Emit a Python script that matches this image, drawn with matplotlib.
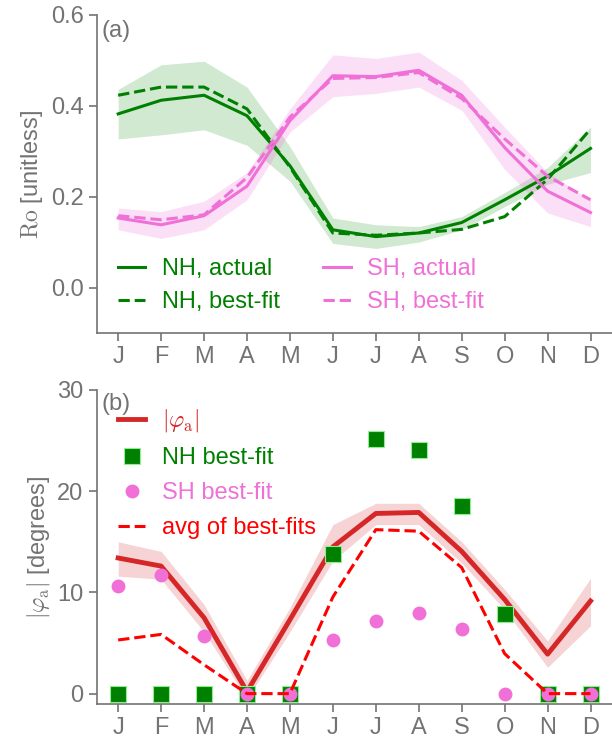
import numpy as np
import matplotlib
matplotlib.use("Agg")
import matplotlib.pyplot as plt

plt.rcParams['font.family'] = ['Liberation Sans', 'DejaVu Sans']
plt.rcParams['mathtext.fontset'] = 'cm'
plt.rcParams['font.size'] = 17

GREY = '0.45'
GREEN = 'green'
PINK = '#F070D8'
RED = 'tab:red'

months = ['J', 'F', 'M', 'A', 'M', 'J', 'J', 'A', 'S', 'O', 'N', 'D']

# Rossby number, panel (a)
nh_actual = [0.382, 0.412, 0.423, 0.378, 0.268, 0.127, 0.112, 0.120, 0.143, 0.193, 0.245, 0.306]
nh_bestfit = [0.423, 0.441, 0.441, 0.393, 0.265, 0.120, 0.115, 0.120, 0.128, 0.156, 0.238, 0.349]
nh_upper = [0.436, 0.490, 0.498, 0.441, 0.310, 0.153, 0.138, 0.134, 0.156, 0.209, 0.264, 0.353]
nh_lower = [0.327, 0.336, 0.347, 0.313, 0.234, 0.097, 0.086, 0.100, 0.127, 0.178, 0.227, 0.253]

sh_actual = [0.153, 0.138, 0.158, 0.223, 0.367, 0.466, 0.464, 0.478, 0.423, 0.308, 0.212, 0.165]
sh_bestfit = [0.158, 0.149, 0.160, 0.242, 0.375, 0.460, 0.462, 0.473, 0.416, 0.327, 0.245, 0.193]
sh_upper = [0.175, 0.167, 0.190, 0.253, 0.393, 0.512, 0.504, 0.518, 0.456, 0.353, 0.253, 0.193]
sh_lower = [0.127, 0.108, 0.127, 0.193, 0.342, 0.420, 0.427, 0.441, 0.390, 0.260, 0.164, 0.134]

# tilt angle, panel (b)
phi_a = [13.4, 12.6, 7.5, 0.2, 7.3, 14.5, 17.8, 17.9, 14.05, 9.3, 3.9, 9.15]
phi_upper = [15.0, 14.05, 8.8, 1.3, 8.5, 16.7, 18.8, 18.8, 15.0, 10.3, 5.2, 11.4]
phi_lower = [11.6, 11.3, 6.1, -0.5, 6.1, 13.1, 16.7, 16.7, 12.9, 8.3, 2.6, 6.7]
nh_phi = [0, 0, 0, 0, 0, 13.8, 25.2, 24.1, 18.5, 7.9, 0, 0]
sh_phi = [10.6, 11.7, 5.7, 0, 0, 5.3, 7.2, 8.0, 6.4, 0, 0, 0]
avg_phi = (np.array(nh_phi) + np.array(sh_phi)) / 2

x = np.arange(len(months))

fig = plt.figure(figsize=(6.12, 7.4), dpi=100)
ax1 = fig.add_axes([0.158, 0.55, 0.842, 0.43])
ax2 = fig.add_axes([0.158, 0.049, 0.842, 0.424])

for ax in (ax1, ax2):
    for side in ('top', 'right'):
        ax.spines[side].set_visible(False)
    for side in ('left', 'bottom'):
        ax.spines[side].set_color(GREY)
        ax.spines[side].set_linewidth(1.2)
    ax.tick_params(colors=GREY, labelcolor=GREY, length=6, width=1.2)
    ax.set_xticks(x)
    ax.set_xticklabels(months)
    ax.set_xlim(-0.5, 11.5)

# (a)
ax1.fill_between(x, nh_lower, nh_upper, color=GREEN, alpha=0.18, lw=0)
ax1.fill_between(x, sh_lower, sh_upper, color=PINK, alpha=0.22, lw=0)
ax1.plot(x, nh_actual, color=GREEN, lw=2.2, label='NH, actual')
ax1.plot(x, nh_bestfit, color=GREEN, lw=2.2, ls='--', label='NH, best-fit')
ax1.plot(x, sh_actual, color=PINK, lw=2.2, label='SH, actual')
ax1.plot(x, sh_bestfit, color=PINK, lw=2.2, ls='--', label='SH, best-fit')
ax1.set_ylim(-0.1, 0.6)
ax1.set_yticks([0.0, 0.2, 0.4, 0.6])
ax1.set_ylabel(r'$\mathrm{Ro}$ [unitless]', color=GREY)
ax1.text(0.01, 0.985, '(a)', transform=ax1.transAxes, color=GREY, va='top', ha='left')
leg1 = ax1.legend(loc='lower left', bbox_to_anchor=(0.014, 0.018), ncol=2, frameon=False,
                  handlelength=1.15, handletextpad=0.7, columnspacing=1.85,
                  labelspacing=0.48, borderaxespad=0.2)
for t, c in zip(leg1.get_texts(), [GREEN, GREEN, PINK, PINK]):
    t.set_color(c)

# (b)
ax2.fill_between(x, phi_lower, phi_upper, color=RED, alpha=0.2, lw=0)
ax2.plot(x, phi_a, color=RED, lw=3.5, label=r'$|\varphi_\mathrm{a}|$', zorder=3)
ax2.plot(x, nh_phi, ls='none', marker='s', ms=11, color=GREEN, mec='lightgreen', mew=0.8,
         label='NH best-fit', zorder=4)
ax2.plot(x, sh_phi, ls='none', marker='o', ms=10, color=PINK, mec='none',
         label='SH best-fit', zorder=5)
ax2.plot(x, avg_phi, color='red', lw=2.2, ls='--', label='avg of best-fits', zorder=6)
ax2.set_ylim(-1, 30)
ax2.set_yticks([0, 10, 20, 30])
ax2.set_ylabel(r'$|\varphi_\mathrm{a}|$ [degrees]', color=GREY)
ax2.text(0.01, 0.99, '(b)', transform=ax2.transAxes, color=GREY, va='top', ha='left')
leg2 = ax2.legend(loc='upper left', bbox_to_anchor=(0.014, 0.99), frameon=False,
                  handlelength=1.15, handletextpad=0.7, labelspacing=0.55,
                  borderaxespad=0.2)
for t, c in zip(leg2.get_texts(), [RED, GREEN, PINK, 'red']):
    t.set_color(c)

fig.savefig('out.png', dpi=100)
